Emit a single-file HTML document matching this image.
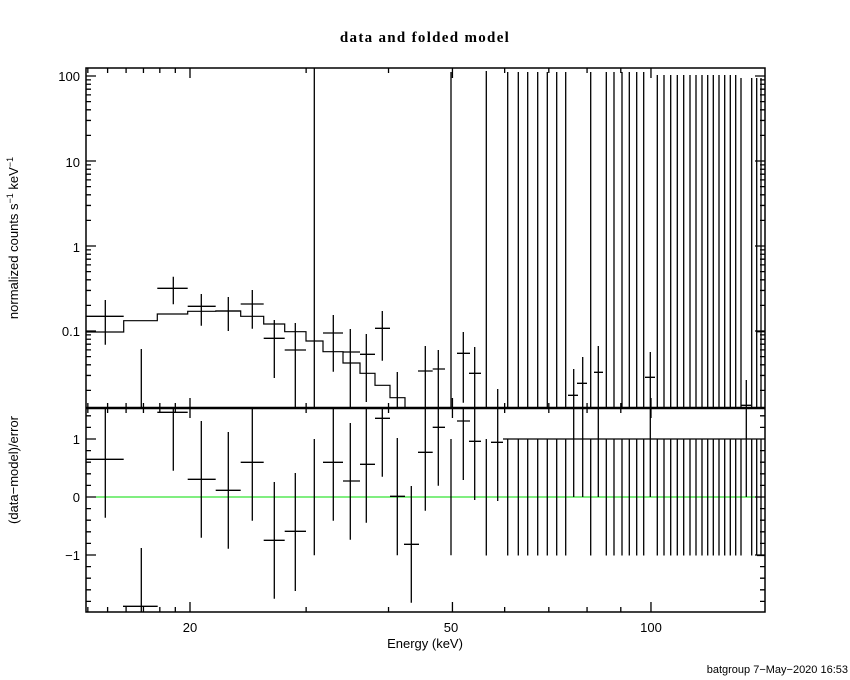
<!DOCTYPE html>
<html><head><meta charset="utf-8"><style>
html,body{margin:0;padding:0;background:#fff;width:850px;height:680px;overflow:hidden}
svg{display:block}
text{font-family:"Liberation Sans",sans-serif;fill:#000}
</style></head><body>
<svg id="s" width="850" height="680" viewBox="0 0 850 680" xmlns="http://www.w3.org/2000/svg">
<rect width="850" height="680" fill="#fff"/>
<text x="425" y="42" text-anchor="middle" style="font-family:'Liberation Serif',serif;font-size:15px;font-weight:bold;letter-spacing:1.3px">data and folded model</text>
<g font-size="13">
<text x="80" y="81" text-anchor="end">100</text>
<text x="80" y="167" text-anchor="end">10</text>
<text x="80" y="252" text-anchor="end">1</text>
<text x="80" y="336" text-anchor="end">0.1</text>
<text x="80" y="444" text-anchor="end">1</text>
<text x="80" y="502" text-anchor="end">0</text>
<text x="80" y="560" text-anchor="end">−1</text>
<text x="190" y="632" text-anchor="middle">20</text>
<text x="451" y="632" text-anchor="middle">50</text>
<text x="651" y="632" text-anchor="middle">100</text>
<text x="425" y="648" text-anchor="middle">Energy (keV)</text>
<text transform="translate(18,238) rotate(-90)" text-anchor="middle">normalized counts s<tspan dy="-5" font-size="9">−1</tspan><tspan dy="5"> keV</tspan><tspan dy="-5" font-size="9">−1</tspan></text>
<text transform="translate(18,470) rotate(-90)" text-anchor="middle">(data−model)/error</text>
</g>
<text x="848" y="673" text-anchor="end" font-size="11">batgroup  7−May−2020 16:53</text>
<line x1="86" y1="497" x2="765" y2="497" stroke="#00dd00" stroke-width="1"/>
<g id="g" stroke="#000" stroke-width="1.3" fill="none"></g>
<rect x="86" y="68" width="679" height="544" fill="none" stroke="#000" stroke-width="1.5"/>
<line x1="86" y1="408" x2="765" y2="408" stroke="#000" stroke-width="2.5"/>
</svg>
<script>
var g=document.getElementById('g'),d='';
function L(a,b,c,e){d+='M'+a+' '+b+'L'+c+' '+e;}
function X(E){return 190+659.5*Math.log10(E/20);}
var xt=[14,15,16,17,18,19,20,30,40,50,60,70,80,90,100,150];
xt.forEach(function(E){var x=X(E);if(x<87||x>764)return;var m=(E==20||E==50||E==100)?10:5;
L(x,612,x,612-m);L(x,408,x,408-m);L(x,408,x,408+m);L(x,68,x,68+m);});
for(var p=-2;p<=2;p++)for(var k=1;k<10;k++){var v=k*Math.pow(10,p);var y=331-85*Math.log10(v/0.1);if(y<69||y>407)continue;var m=k==1?10:5;L(86,y,86+m,y);L(765,y,765-m,y);}
for(var r=-1.8;r<=1.41;r+=0.2){var y=497-58*r;var m=Math.abs(r-Math.round(r))<0.01?10:5;L(86,y,86+m,y);L(765,y,765-m,y);}
var st=[[86,332],[123.7,320.7],[157.3,314],[187.7,311.3],[215.7,311],[240.7,316.3],[263.7,324],[284.7,331.7],[306,341],[323,351.7],[343,363],[360,373.3],[375,385.3],[390,397.7],[405,408]];
var md='M'+st[0][0]+' '+st[0][1];
for(var i=0;i<st.length-1;i++){md+='H'+st[i+1][0]+'V'+st[i+1][1];}
var tc=[[105.3,86,123.7,316.3,300,344.7],[141.3,0,0,0,349,408],[173.3,157.3,187.7,288.3,276.7,304.3],[201.3,187.7,215.7,306.3,294,325.7],[228.3,215.7,240.7,311,297,331],[252.3,240.7,263.7,304,290,328.7],[274.3,263.7,284.7,338.3,320,378],[295.3,284.7,306,350,323,408],[314.3,0,0,0,68,408],[333.3,323,343,333,315,371.7],[350.3,343,360,352,329,408],[366.3,360,375,354.3,334,402],[382.3,375,390,328.3,311,360.7],[397.3,0,0,0,372,408],[425.3,418,432.7,371,346,408],[438.3,432.7,445,369,350,408],[451,0,0,0,72,408],
[463.3,457,470,353.3,332,402.7],[474.7,469,481,373.3,347,408],[486.3,0,0,0,71,408],[497.7,0,0,0,389,408],
[573.7,568,578,395.3,369,408],[582.7,577,587,383.3,357,408],[598.3,594,603,372.3,346,408],[650.3,645,655,377.3,352,408],[746.3,741,751,405.3,380,408]];
tc.forEach(function(c){L(c[0],c[4],c[0],c[5]);if(c[1])L(c[1],c[3],c[2],c[3]);});
var full=[507.7,518.3,527.7,537.7,547.3,556.7,565.7,590.7,606.3,614,622,629.3,636.7,643.7,657.3,664,670.7,677.3,683.7,690,696,702,707.7,713.3,719,724.7,730.3,735.7,741,751.7,756.7,761];
full.forEach(function(x){var t=x<650?72:(x<740?75:78);L(x,t,x,408);L(x,439,x,555.5);});
L(757,331.7,765,331.7);L(757,555.5,765,555.5);
var bc=[[105.3,86,123.7,459.3,408,517.7],[141.3,123,157.7,606.3,548,612],[173.3,157.3,187.7,412.3,408,470.7],[201.3,187.7,215.7,479.3,421,537.7],[228.3,215.7,240.7,490.3,432,548.7],[252.3,240.7,263.7,462.3,408,520.7],[274.3,263.7,284.7,540.3,482,598.7],[295.3,284.7,306,531.3,473,591],[314.3,0,0,0,439,555.3],[333.3,323,343,462.3,408,520.7],[350.3,343,360,481,423,539.7],[366.3,360,375,464.3,408,522.7],[382.3,375,390,418.3,408,476.7],[397.3,390,405,496.3,438,555.3],[411.3,404,419,544.3,486,602.7],[425.3,418,432.7,452.3,408,510.7],[438.3,432.7,445,427.3,408,485.7],[451,0,0,0,439,555.3],
[463.3,457,470,421,408,480],[474.7,469,481,441.3,408,500],[486.3,0,0,0,439,555.5],[497.7,491,503,442.3,408,501],[573.7,568,578,439,408,497],[582.7,577,587,439,408,497],[598.3,594,603,439,408,497],[650.3,645,655,439,408,497],[746.3,741,751,439,408,497]];
bc.forEach(function(c){L(c[0],c[4],c[0],c[5]);if(c[1])L(c[1],c[3],c[2],c[3]);});
L(503,439,765,439);
g.innerHTML='<path d="'+d+'"/><path d="'+md+'" stroke-width="1.2"/>';
</script>
</body></html>
